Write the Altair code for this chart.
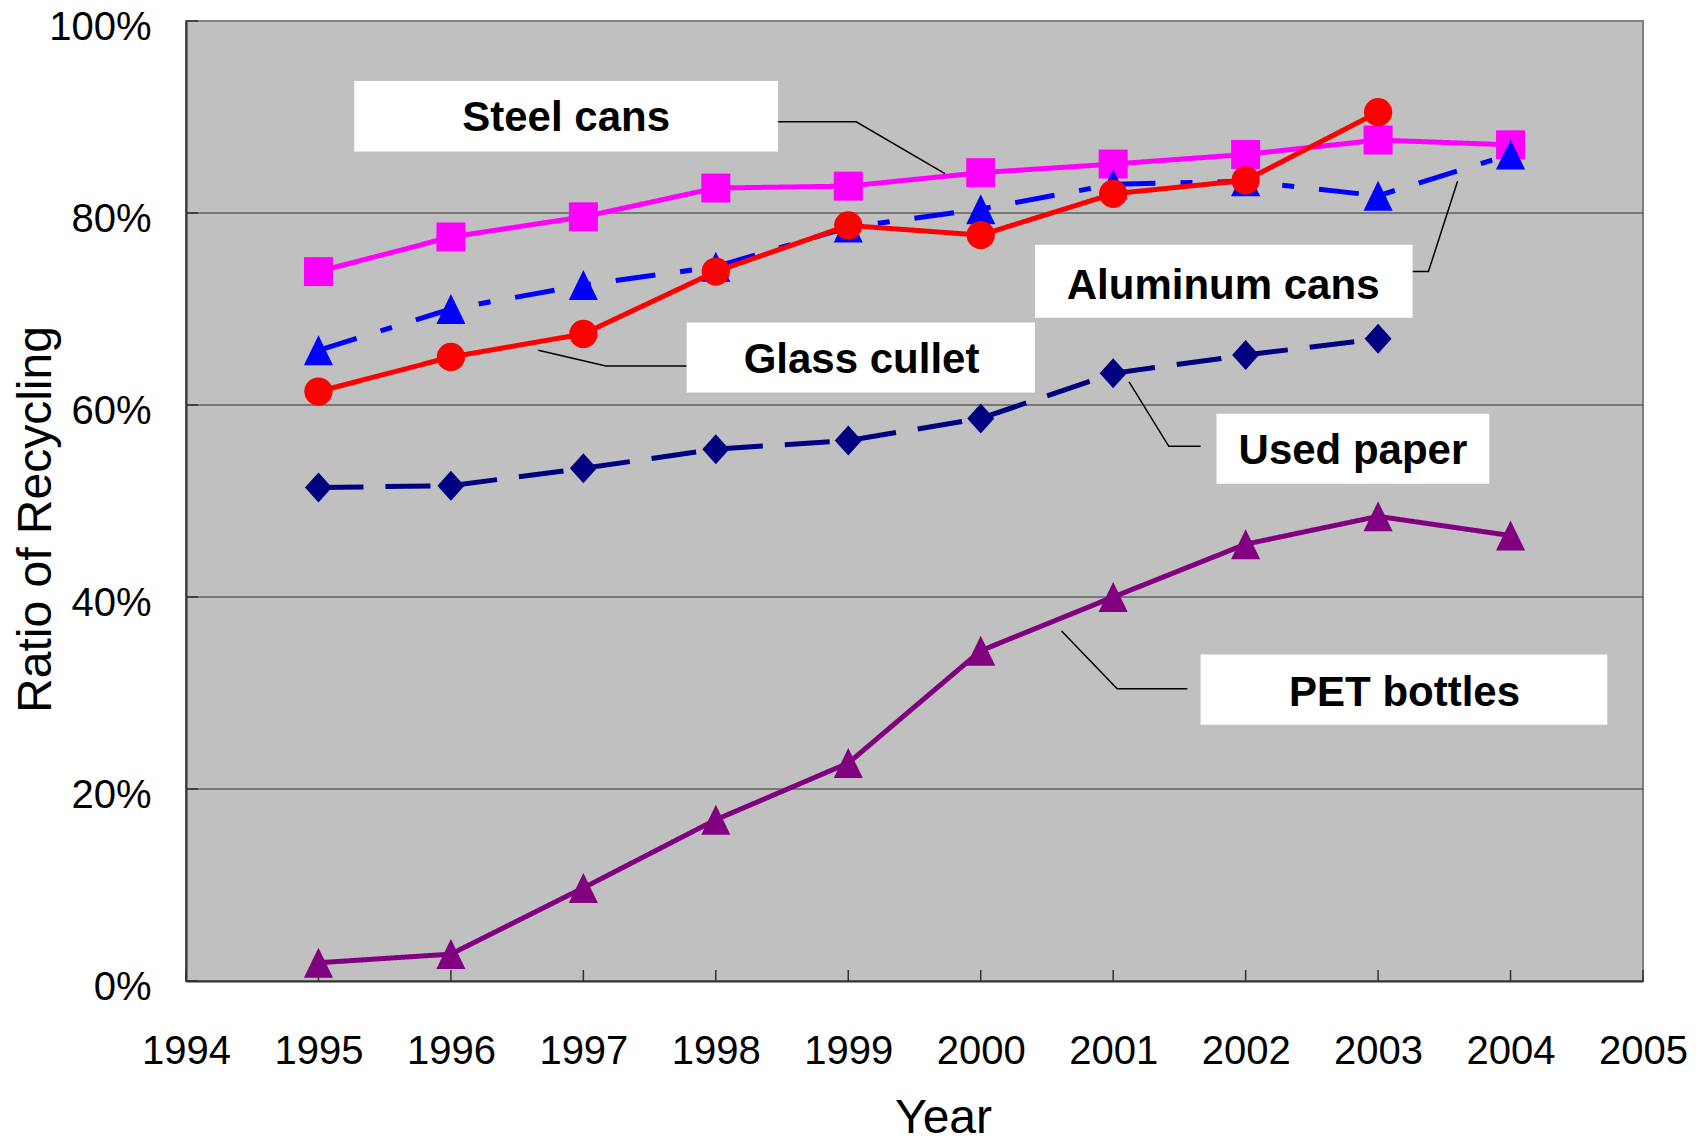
import altair as alt
import pandas as pd

# ---------------- data ----------------
years = [1995, 1996, 1997, 1998, 1999, 2000, 2001, 2002, 2003, 2004]
steel_cans = [73.9, 77.5, 79.6, 82.6, 82.8, 84.2, 85.1, 86.1, 87.6, 87.1]
aluminum_cans = [65.7, 70.0, 72.5, 74.4, 78.5, 80.4, 83.0, 83.3, 81.8, 86.1]
glass_cullet = [61.4, 65.0, 67.4, 73.9, 78.7, 77.7, 82.0, 83.4, 90.5, None]
used_paper = [51.4, 51.6, 53.4, 55.4, 56.3, 58.6, 63.3, 65.2, 66.9, None]
pet_bottles = [1.9, 2.8, 9.7, 16.8, 22.7, 34.4, 40.0, 45.5, 48.4, 46.4]

x_ticks = list(range(1994, 2006))
y_ticks = [0, 20, 40, 60, 80, 100]
grid_values = [20, 40, 60, 80]

series_names = ["Steel cans", "Aluminum cans", "Glass cullet", "Used paper", "PET bottles"]

# callout labels (positions in data units: year, percent)
label_text = ["Steel cans", "Aluminum cans", "Glass cullet", "Used paper", "PET bottles"]
label_cx = [1996.87, 2001.83, 1999.10, 2002.81, 2003.20]
label_base = [88.5, 71.0, 63.3, 53.9, 28.6]
box_x1 = [1995.27, 2000.41, 1997.78, 2001.78, 2001.66]
box_x2 = [1998.47, 2003.26, 2000.41, 2003.84, 2004.73]
box_y1 = [86.4, 69.1, 61.3, 51.8, 26.7]
box_y2 = [93.75, 76.7, 68.6, 59.1, 34.0]
leader_x = [[1998.47, 1999.06, 1999.73],
            [2003.26, 2003.38, 2003.60],
            [1997.78, 1997.17, 1996.66],
            [2001.66, 2001.42, 2001.12],
            [2001.56, 2001.03, 2000.61]]
leader_y = [[89.5, 89.5, 84.1],
            [73.9, 73.9, 83.3],
            [64.06, 64.06, 65.7],
            [55.7, 55.7, 62.4],
            [30.43, 30.43, 36.46]]

# ---------------- styling ----------------
colors = ["#FF00FF", "#0000FF", "#FF0000", "#000080", "#800080"]
dashes = [[1, 0], [40, 25, 12, 25], [1, 0], [45, 22], [1, 0]]
tri = "M0,-1L-0.97,1L0.97,1Z"
dia = "M0,-1L-0.9,0L0,1L0.9,0Z"
shapes = ["square", tri, "circle", dia, tri]
sizes = [841, 900, 800, 900, 900]

TICK_FONT = "Liberation Sans, Arial"
FONT = "Liberation Sans, Arial"

xs = alt.Scale(domain=[1994, 2005], nice=False, zero=False)
ys = alt.Scale(domain=[0, 100], nice=False, zero=False)

xaxis = alt.Axis(values=x_ticks, format="d", title="Year", titleX=757, titleY=151,
                 titleFont=FONT, titleFontSize=48, titleFontWeight="normal",
                 titleBaseline="alphabetic", titleAlign="center", titleColor="black",
                 labelFont=TICK_FONT, labelFontSize=40, labelColor="black",
                 labelPadding=82, labelBaseline="alphabetic", labelFlush=False,
                 labelOverlap=False, ticks=False, grid=False,
                 domainColor="#303030", domainWidth=2)
yaxis = alt.Axis(values=y_ticks, labelExpr="datum.value + '%'", title="Ratio of Recycling",
                 titleX=-136, titleY=498, titleAngle=270,
                 titleFont=FONT, titleFontSize=48, titleFontWeight="normal",
                 titleBaseline="alphabetic", titleAlign="center", titleColor="black",
                 labelFont=TICK_FONT, labelFontSize=40, labelColor="black",
                 labelPadding=35, labelOffset=18, labelBaseline="alphabetic",
                 labelFlush=False, labelOverlap=False, ticks=False, grid=False,
                 domainColor="#303030", domainWidth=2)


def X(f):
    return alt.X(f, type="quantitative", scale=xs, axis=xaxis)


def Y(f):
    return alt.Y(f, type="quantitative", scale=ys, axis=yaxis)


layers = []

# gridlines
grid_df = pd.DataFrame({"g": grid_values})
layers.append(alt.Chart(grid_df).mark_rule(color="#303030", strokeWidth=1).encode(y=Y("g")))

# inward ticks
xt_df = pd.DataFrame({"t": x_ticks})
layers.append(alt.Chart(xt_df).mark_rule(color="#303030", strokeWidth=1.5).encode(
    x=X("t"), y=alt.value(960), y2=alt.value(949)))
yt_df = pd.DataFrame({"t": y_ticks})
layers.append(alt.Chart(yt_df).mark_rule(color="#303030", strokeWidth=1.5).encode(
    y=Y("t"), x=alt.value(0), x2=alt.value(12)))

# series
all_series = [steel_cans, aluminum_cans, glass_cullet, used_paper, pet_bottles]
for name, vals, col, dash, shp, sz in zip(series_names, all_series, colors, dashes, shapes, sizes):
    df = pd.DataFrame({"year": years, "value": vals, "series": name}).dropna()
    base = alt.Chart(df).encode(x=X("year"), y=Y("value"))
    layers.append(base.mark_line(color=col, strokeWidth=5, strokeDash=dash))
    layers.append(base.mark_point(shape=shp, size=sz, filled=True, color=col,
                                  fill=col, opacity=1, strokeWidth=0))

# leader lines
rows = []
for i, (lx, ly) in enumerate(zip(leader_x, leader_y)):
    for j, (a, b) in enumerate(zip(lx, ly)):
        rows.append({"id": i, "ord": j, "lx": a, "ly": b})
lead_df = pd.DataFrame(rows)
layers.append(alt.Chart(lead_df).mark_line(color="black", strokeWidth=1.5).encode(
    x=X("lx"), y=Y("ly"), detail="id:N", order="ord:Q"))

# label boxes and text
lab_df = pd.DataFrame({"text": label_text, "cx": label_cx, "base": label_base,
                       "x1": box_x1, "x2": box_x2, "y1": box_y1, "y2": box_y2})
layers.append(alt.Chart(lab_df).mark_rect(color="white", opacity=1).encode(
    x=X("x1"), x2="x2", y=Y("y1"), y2="y2"))
layers.append(alt.Chart(lab_df).mark_text(font=FONT, fontSize=42, fontWeight="bold",
                                          color="black", align="center",
                                          baseline="alphabetic").encode(
    x=X("cx"), y=Y("base"), text="text:N"))

chart = alt.layer(*layers).properties(
    width=1457, height=960,
    padding={"left": 178, "top": 13, "right": 48, "bottom": 157},
    autosize=alt.AutoSizeParams(type="none"),
    background="white",
).configure_view(fill="#C0C0C0", stroke="#808080", strokeWidth=2)

chart.save("out.html", embed_options={"renderer": "svg", "actions": False})
